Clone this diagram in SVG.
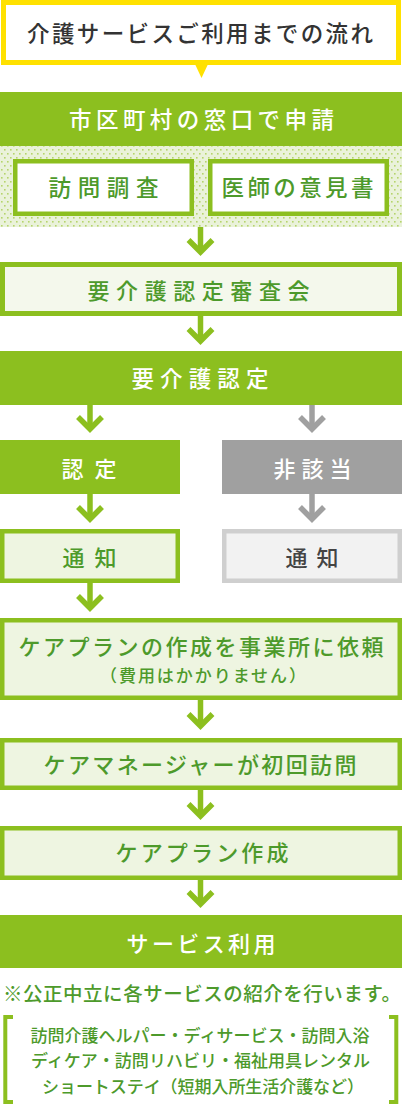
<svg xmlns="http://www.w3.org/2000/svg" width="402" height="1104" viewBox="0 0 402 1104">
  <style>
    text { font-family: "Noto Sans CJK JP", "Noto Sans", sans-serif; font-weight: 500; }
    .t-white { fill: #ffffff; }
    .t-green { fill: #4d9a2b; }
    .t-dark { fill: #333333; }
    .t-gray { fill: #444444; }
    .solid { fill: #8cbf1f; }
    .light { fill: #eef5e1; stroke: #8cbf1f; stroke-width: 4.5; }
    .white-box { fill: #ffffff; stroke: #8cbf1f; stroke-width: 4.5; }
    .arrow { fill: none; stroke: #8cbf1f; stroke-width: 5.5; stroke-linejoin: miter; stroke-linecap: butt; }
    .arrow-gray { fill: none; stroke: #a0a0a0; stroke-width: 5.5; stroke-linejoin: miter; stroke-linecap: butt; }
    .bracket { fill: none; stroke: #8cbf1f; stroke-width: 4; }
  </style>
  <defs>
    <pattern id="dots" x="0" y="0" width="6" height="8" patternUnits="userSpaceOnUse">
      <rect width="6" height="8" fill="#eaf2da"/>
      <rect x="1" y="1" width="1.6" height="1.6" fill="#b5d46c"/>
      <rect x="4" y="5" width="1.6" height="1.6" fill="#b5d46c"/>
    </pattern>
  </defs>

  <g id="title">
    <rect x="3.5" y="2.5" width="395" height="60" fill="#ffffff" stroke="#ffe100" stroke-width="5"/>
    <polygon points="194,62 209,62 201.5,78" fill="#ffe100"/>
    <text class="t-dark" x="200" y="41.6" font-size="22.5" text-anchor="middle" textLength="346" lengthAdjust="spacing">介護サービスご利用までの流れ</text>
  </g>

  <g id="apply">
    <rect class="solid" x="0" y="92" width="402" height="54"/>
    <text class="t-white" x="201.5" y="127.5" font-size="22.5" text-anchor="middle" textLength="265" lengthAdjust="spacing">市区町村の窓口で申請</text>
  </g>

  <g id="survey-area">
    <rect x="0" y="146" width="402" height="81" fill="url(#dots)"/>
  </g>
  <g id="visit-survey">
    <rect class="white-box" x="15.25" y="161.25" width="176.5" height="52.5"/>
    <text class="t-green" x="103.5" y="195.5" font-size="22.5" text-anchor="middle" textLength="110" lengthAdjust="spacing">訪問調査</text>
  </g>
  <g id="doctor-opinion">
    <rect class="white-box" x="210.25" y="161.25" width="176.5" height="52.5"/>
    <text class="t-green" x="297.5" y="195.5" font-size="22.5" text-anchor="middle" textLength="152" lengthAdjust="spacing">医師の意見書</text>
  </g>

  <g id="review">
    <rect x="2.5" y="264.5" width="397" height="49" fill="#f4f8ec" stroke="#8cbf1f" stroke-width="5"/>
    <text class="t-green" x="198.5" y="298.5" font-size="22" text-anchor="middle" textLength="222" lengthAdjust="spacing">要介護認定審査会</text>
  </g>

  <g id="certification">
    <rect class="solid" x="0" y="351" width="402" height="54"/>
    <text class="t-white" x="200" y="387" font-size="22.5" text-anchor="middle" textLength="137" lengthAdjust="spacing">要介護認定</text>
  </g>

  <g id="certified">
    <rect class="solid" x="0" y="440" width="180" height="54"/>
    <text class="t-white" x="89" y="476.5" font-size="22" text-anchor="middle" textLength="55" lengthAdjust="spacing">認定</text>
  </g>
  <g id="not-applicable">
    <rect x="222" y="440" width="180" height="54" fill="#a0a0a0"/>
    <text class="t-white" x="312.5" y="476.5" font-size="22" text-anchor="middle" textLength="78" lengthAdjust="spacing">非該当</text>
  </g>

  <g id="notice-left">
    <rect class="light" x="2.25" y="531.25" width="175.5" height="49.5"/>
    <text class="t-green" x="89.5" y="565.5" font-size="22" text-anchor="middle" textLength="54" lengthAdjust="spacing">通知</text>
  </g>
  <g id="notice-right">
    <rect x="224.25" y="531.25" width="175.5" height="49.5" fill="#f2f2f2" stroke="#cfcfcf" stroke-width="4.5"/>
    <text class="t-gray" x="312" y="565.5" font-size="22" text-anchor="middle" textLength="53" lengthAdjust="spacing">通知</text>
  </g>

  <g id="request-plan">
    <rect class="light" x="2.25" y="620.25" width="397.5" height="77.5"/>
    <text class="t-green" x="201" y="654.5" font-size="22" text-anchor="middle" textLength="365" lengthAdjust="spacing">ケアプランの作成を事業所に依頼</text>
    <text class="t-green" x="100" y="681.5" font-size="17" text-anchor="start" textLength="206" lengthAdjust="spacing">（費用はかかりません）</text>
  </g>

  <g id="manager-visit">
    <rect class="light" x="2.25" y="740.25" width="397.5" height="47.5"/>
    <text class="t-green" x="200" y="772.5" font-size="22" text-anchor="middle" textLength="313" lengthAdjust="spacing">ケアマネージャーが初回訪問</text>
  </g>

  <g id="make-plan">
    <rect class="light" x="2.25" y="828.25" width="397.5" height="49.5"/>
    <text class="t-green" x="202" y="861" font-size="22" text-anchor="middle" textLength="173" lengthAdjust="spacing">ケアプラン作成</text>
  </g>

  <g id="use-service">
    <rect class="solid" x="0" y="915" width="402" height="53"/>
    <text class="t-white" x="201" y="951.5" font-size="22" text-anchor="middle" textLength="149" lengthAdjust="spacing">サービス利用</text>
  </g>

  <g id="note">
    <text class="t-green" x="3" y="1000.5" font-size="19.5" text-anchor="start" textLength="398" lengthAdjust="spacing">※公正中立に各サービスの紹介を行います。</text>
  </g>

  <g id="services">
    <path class="bracket" d="M13,1017 H5.3 V1102 H13"/>
    <path class="bracket" d="M389,1017 H396.3 V1102 H389"/>
    <text class="t-green" x="200" y="1041.5" font-size="17" text-anchor="middle" textLength="339" lengthAdjust="spacing">訪問介護ヘルパー・ディサービス・訪問入浴</text>
    <text class="t-green" x="200.5" y="1066.5" font-size="17" text-anchor="middle" textLength="339" lengthAdjust="spacing">ディケア・訪問リハビリ・福祉用具レンタル</text>
    <text class="t-green" x="42" y="1092.5" font-size="17" text-anchor="start" textLength="322" lengthAdjust="spacing">ショートステイ（短期入所生活介護など）</text>
  </g>

  <g id="connectors">
    <g class="arrow">
      <path d="M200.5,227 V252"/><path d="M188.5,240 L200.5,252 L212.5,240"/>
      <path d="M200.5,316 V341"/><path d="M188.5,329 L200.5,341 L212.5,329"/>
      <path d="M90,405 V429"/><path d="M78,417 L90,429 L102,417"/>
      <path d="M90,494 V519"/><path d="M78,507 L90,519 L102,507"/>
      <path d="M90,583 V608"/><path d="M78,596 L90,608 L102,596"/>
      <path d="M200.5,700 V726"/><path d="M188.5,714 L200.5,726 L212.5,714"/>
      <path d="M200.5,790 V816"/><path d="M188.5,804 L200.5,816 L212.5,804"/>
      <path d="M200.5,880 V904"/><path d="M188.5,892 L200.5,904 L212.5,892"/>
    </g>
    <g class="arrow-gray">
      <path d="M312,405 V429"/><path d="M300,417 L312,429 L324,417"/>
      <path d="M312,494 V519"/><path d="M300,507 L312,519 L324,507"/>
    </g>
  </g>
</svg>
